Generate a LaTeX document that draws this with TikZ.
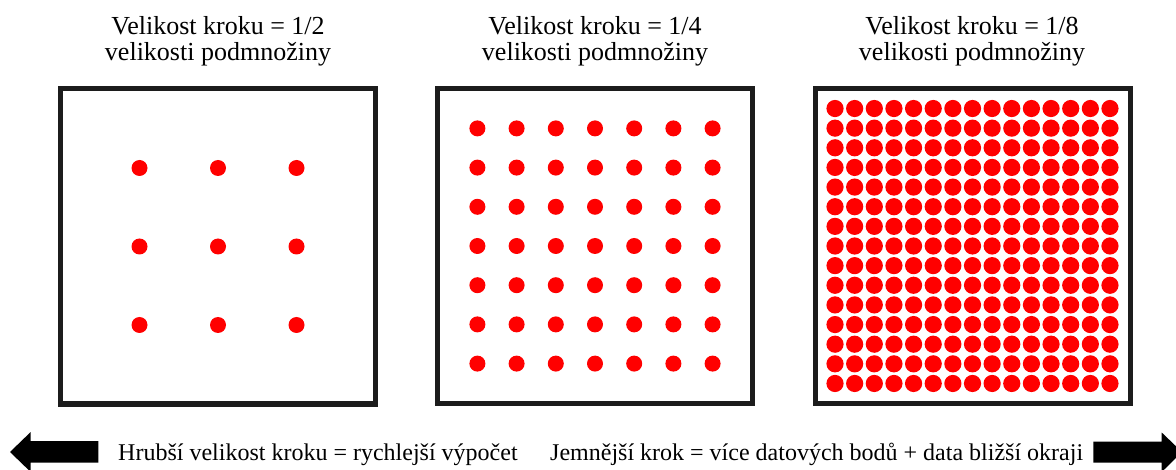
\documentclass[tikz,border=0pt]{standalone}
\usepackage{fontspec}
\setmainfont{Liberation Serif}
\usetikzlibrary{calc}
\definecolor{dotred}{HTML}{FF0000}
\definecolor{boxgray}{HTML}{1C1C1C}
\begin{document}
\begin{tikzpicture}[x=1pt,y=-1pt,
  title/.style={anchor=base,inner sep=0pt,font=\fontsize{26}{26}\selectfont},
  caption/.style={anchor=base west,inner sep=0pt,font=\fontsize{24}{24}\selectfont},
  frame/.style={draw=boxgray,line width=5pt,minimum size=315pt,inner sep=0pt},
  dot/.style={fill=dotred},
  bigarrow/.style={fill=black}]
\useasboundingbox (0,0) rectangle (1176,470);
\fill[white] (0,0) rectangle (1176,470);
% titles
\node[title] (t1a) at (218,35) {Velikost kroku = 1/2};
\node[title] (t1b) at (218,61) {velikosti podmnožiny};
\node[title] (t2a) at (595,35) {Velikost kroku = 1/4};
\node[title] (t2b) at (595,61) {velikosti podmnožiny};
\node[title] (t3a) at (972,35) {Velikost kroku = 1/8};
\node[title] (t3b) at (972,61) {velikosti podmnožiny};
% frames
\node[frame] (b1) at (218,246.5) {};
\node[frame] (b2) at (595,246) {};
\node[frame] (b3) at (972.5,246) {};
% dots
\foreach \i in {-1,0,1}{\foreach \j in {-1,0,1}{
  \fill[dot] ($(b1.center)+(\i*78.5,\j*78.5)$) circle (8);}}
\foreach \i in {-3,...,3}{\foreach \j in {-3,...,3}{
  \fill[dot] ($(b2.center)+(\i*39.2,\j*39.2)$) circle (8);}}
\foreach \i in {-7,...,7}{\foreach \j in {-7,...,7}{
  \fill[dot] ($(b3.center)+(\i*19.64,\j*19.64)$) circle (8.6);}}
% captions
\node[caption] (c1) at (118,460) {Hrubší velikost kroku = rychlejší výpočet};
\node[caption] (c2) at (550,460) {Jemnější krok = více datových bodů + data bližší okraji};
% arrows
\fill[bigarrow] (10,452) -- (30.7,432) -- (30.7,441.2) -- (98.3,441.2) -- (98.3,462.6) -- (30.7,462.6) -- (30.7,472) -- cycle;
\fill[bigarrow] (1182,452) -- (1161.7,432.5) -- (1161.7,441.5) -- (1093.3,441.5) -- (1093.3,462.5) -- (1161.7,462.5) -- (1161.7,472) -- cycle;
\end{tikzpicture}
\end{document}
